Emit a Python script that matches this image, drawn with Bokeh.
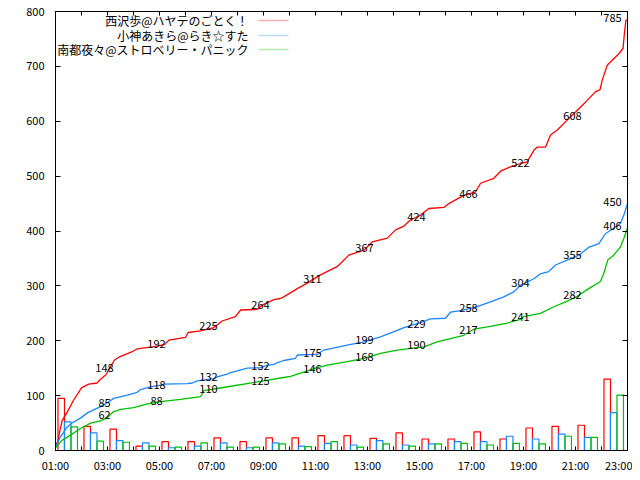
from bokeh.plotting import figure
from bokeh.models import Range1d, FixedTicker, LinearAxis, Label, BoxAnnotation, ColumnDataSource
from bokeh.core.properties import value
from bokeh.embed import file_html
from bokeh.resources import INLINE

# ---- data ----
series_names = ["西沢歩@ハヤテのごとく！", "小神あきら@らき☆すた", "南都夜々@ストロベリー・パニック"]
series_colors = ["#ff0000", "#1a86ff", "#00c000"]

hours = list(range(1, 23))
red_counts = [95, 44, 39, 8, 16, 16, 23, 16, 23, 23, 27, 27, 22, 32, 21, 21, 34, 21, 41, 44, 46, 130]
blue_counts = [52, 32, 18, 14, 5, 8, 14, 5, 14, 8, 13, 10, 18, 10, 12, 16, 16, 26, 21, 30, 24, 69]
green_counts = [43, 17, 15, 8, 6, 14, 6, 6, 12, 7, 16, 6, 12, 8, 12, 13, 10, 13, 12, 26, 24, 101]

red_t = [1.00, 1.09, 1.17, 1.26, 1.45, 1.70, 2.00, 2.28, 2.60, 2.73, 2.94, 3.27, 3.44, 3.95, 4.14, 4.72,
         5.19, 5.36, 6.00, 6.10, 6.58, 7.09, 7.41, 7.92, 8.12, 8.76, 8.95, 9.40, 9.65, 9.78, 10.30, 10.68,
         11.19, 11.83, 12.03, 12.28, 12.86, 13.18, 13.76, 14.08, 14.40, 14.65, 15.04, 15.36, 15.94, 16.13,
         16.70, 17.15, 17.35, 17.86, 18.12, 18.50, 18.88, 19.14, 19.40, 19.53, 19.85, 20.04, 20.30, 20.68,
         21.20, 21.45, 21.77, 21.94, 22.03, 22.22, 22.47, 22.67, 22.83, 22.88, 22.94, 23.00]
red_v = [10, 16, 37, 55, 70, 92, 114, 121, 123, 130, 138, 165, 170, 180, 185, 189,
         193, 201, 206, 215, 218, 224, 236, 244, 256, 257, 265, 275, 277, 280, 295, 305,
         320, 335, 344, 356, 365, 380, 387, 402, 409, 420, 429, 441, 443, 450,
         465, 471, 487, 496, 509, 517, 523, 526, 547, 553, 553, 575, 584, 602,
         626, 638, 654, 657, 675, 702, 714, 723, 733, 760, 784, 785]

blue_t = [1.00, 1.19, 1.45, 1.64, 1.96, 2.24, 2.47, 2.73, 2.99, 3.24, 3.76, 4.14, 4.27, 4.65, 5.04, 5.17,
          6.06, 6.26, 6.45, 7.09, 7.22, 7.60, 7.73, 7.99, 8.37, 8.88, 9.14, 9.40, 9.53, 9.78, 10.23, 10.30,
          11.06, 11.32, 12.22, 12.86, 13.50, 14.14, 14.40, 14.91, 15.42, 16.00, 16.19, 16.58, 17.22, 17.73,
          18.24, 18.63, 18.88, 19.40, 19.65, 19.97, 20.23, 20.68, 21.13, 21.50, 21.90, 22.15, 22.47, 22.73,
          22.86, 23.00]
blue_v = [6, 25, 43, 50, 59, 69, 74, 80, 87, 95, 101, 106, 111, 116, 119, 121,
          122, 123, 127, 131, 134, 139, 142, 145, 150, 151, 155, 157, 160, 164, 168, 174,
          175, 183, 192, 198, 207, 219, 224, 231, 240, 241, 252, 255, 262, 271,
          280, 289, 301, 313, 322, 326, 338, 347, 356, 370, 377, 395, 405, 414,
          429, 450]

green_t = [1.00, 1.26, 1.58, 1.96, 2.35, 2.73, 2.99, 3.24, 3.50, 4.01, 4.53, 5.04, 5.81, 6.58, 6.70, 7.22,
           7.86, 8.37, 9.01, 9.78, 10.04, 10.42, 10.81, 11.06, 11.51, 12.22, 12.86, 13.50, 14.14, 14.65,
           15.17, 15.68, 16.19, 16.70, 17.09, 17.73, 18.37, 18.88, 19.01, 19.65, 20.17, 20.62, 21.07, 21.51,
           21.96, 22.09, 22.24, 22.47, 22.73, 22.88, 23.00]
green_v = [5, 19, 28, 40, 50, 54, 60, 71, 75, 78, 85, 89, 93, 98, 109, 113,
           118, 122, 127, 133, 135, 141, 147, 151, 156, 162, 168, 177, 183, 186,
           189, 198, 204, 210, 221, 226, 232, 239, 244, 250, 262, 271, 281, 295,
           308, 323, 347, 356, 371, 389, 406]

label_hours = [3, 5, 7, 9, 11, 13, 15, 17, 19, 21]
red_labels = [148, 192, 225, 264, 311, 367, 424, 466, 522, 608]
blue_labels = [85, 118, 132, 152, 175, 199, 229, 258, 304, 355]
green_labels = [62, 88, 110, 125, 146, 168, 190, 217, 241, 282]
final_hour = 23
final_labels = [785, 450, 406]

x_ticks = list(range(1, 24))
x_tick_labels = ["01:00", "03:00", "05:00", "07:00", "09:00", "11:00",
                 "13:00", "15:00", "17:00", "19:00", "21:00", "23:00"]
y_ticks = [0, 100, 200, 300, 400, 500, 600, 700, 800]

# ---- figure ----
NUM_FONT = "Noto Sans CJK JP"
CJK_FONT = "Noto Sans CJK JP"

p = figure(frame_width=572, frame_height=439,
           x_range=Range1d(1, 23), y_range=Range1d(0, 800),
           output_backend="svg", toolbar_location=None,
           min_border_left=55, min_border_right=5, min_border_top=11, min_border_bottom=22)
p.background_fill_color = "white"
p.border_fill_color = "white"
p.outline_line_color = "black"
p.outline_line_width = 1
p.grid.visible = False

p.xaxis.ticker = FixedTicker(ticks=x_ticks)
odd = [h for h in x_ticks if h % 2 == 1]
overrides = {h: "" for h in x_ticks}
for h, lab in zip(odd, x_tick_labels):
    overrides[h] = lab
p.xaxis.major_label_overrides = overrides
p.yaxis.ticker = FixedTicker(ticks=y_ticks)

for ax in (p.xaxis[0], p.yaxis[0]):
    ax.major_tick_in = 4
    ax.major_tick_out = 0
    ax.minor_tick_line_color = None
    ax.axis_line_color = "black"
    ax.major_tick_line_color = "black"
    ax.major_label_text_font = NUM_FONT
    ax.major_label_text_font_size = "11px"
    ax.major_label_text_color = "black"
p.xaxis.major_label_standoff = 6
p.yaxis.major_label_standoff = 11
p.yaxis.major_tick_in = 5

right_ax = LinearAxis(ticker=FixedTicker(ticks=y_ticks), major_label_overrides={t: "" for t in y_ticks},
                      major_label_standoff=0, major_tick_in=5, major_tick_out=0,
                      minor_tick_line_color=None, axis_line_color="black",
                      major_label_text_font_size="1px")
top_ax = LinearAxis(ticker=FixedTicker(ticks=x_ticks), major_label_overrides={t: "" for t in x_ticks},
                    major_label_standoff=0, major_tick_in=4, major_tick_out=0,
                    minor_tick_line_color=None, axis_line_color="black",
                    major_label_text_font_size="1px")
p.add_layout(right_ax, "right")
p.add_layout(top_ax, "above")

# bars
offsets = [0.22, 0.47, 0.72]
for counts, col, off in zip([red_counts, blue_counts, green_counts], series_colors, offsets):
    src = ColumnDataSource(dict(x=[h + off for h in hours], top=counts))
    p.vbar(x="x", top="top", bottom=0, width=0.25, source=src,
           fill_color=None, line_color=col, line_width=1.2)

# cumulative lines
for t, v, col in zip([red_t, blue_t, green_t], [red_v, blue_v, green_v], series_colors):
    p.line(t, v, line_color=col, line_width=1.3)

# value labels
for labs in [red_labels, blue_labels, green_labels]:
    p.text(x=label_hours, y=labs, text=[str(s) for s in labs],
           text_font=value(NUM_FONT), text_font_size="11px", text_color="black",
           text_align="center", text_baseline="middle", x_offset=-3, y_offset=-1)
p.text(x=[final_hour] * 3, y=final_labels, text=[str(s) for s in final_labels],
       text_font=value(NUM_FONT), text_font_size="11px", text_color="black",
       text_align="center", text_baseline="middle", x_offset=-15, y_offset=-2)

# manual legend (text right-aligned, sample line on the right)
row_y = [430, 415, 401]
for name, col, yy in zip(series_names, series_colors, row_y):
    p.add_layout(Label(x=193, y=yy, x_units="screen", y_units="screen", text=name,
                       text_font=CJK_FONT, text_font_size="12px", text_color="black",
                       text_align="right", text_baseline="middle"))
    p.add_layout(BoxAnnotation(left=203, right=233, top=yy, bottom=yy,
                               left_units="screen", right_units="screen",
                               top_units="screen", bottom_units="screen",
                               fill_alpha=0, line_color=col, line_width=1.3))

open("out.html", "w").write(file_html(p, INLINE))
